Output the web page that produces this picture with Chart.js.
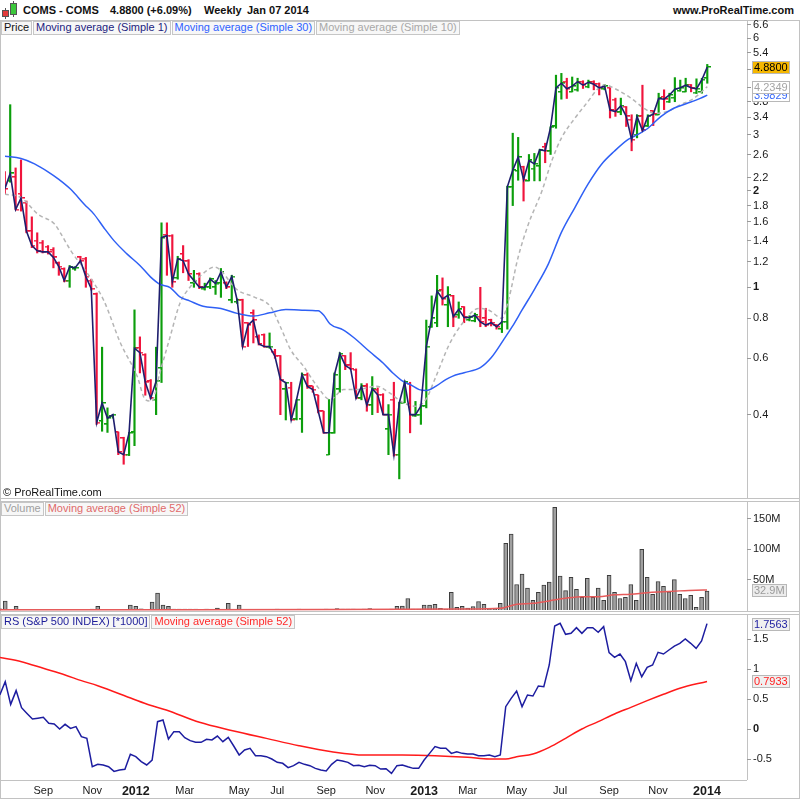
<!DOCTYPE html>
<html>
<head>
<meta charset="utf-8">
<title>COMS - COMS Weekly</title>
<script src="https://cdn.jsdelivr.net/npm/chart.js@4.4.1/dist/chart.umd.min.js"></script>
<style>
  html, body { margin: 0; padding: 0; background: #fff; }
  body { position: relative; width: 800px; height: 800px; overflow: hidden; font-family: "Liberation Sans", Arial, Helvetica, sans-serif; color: #111; }
  canvas { position: absolute; left: 0; top: 0; }
  .ln { position: absolute; background: #c2c2c2; }
  .hdr { position: absolute; top: 4px; font-size: 11px; line-height: 12px; font-weight: bold; white-space: nowrap; }
  .legend { position: absolute; left: 1px; display: flex; z-index: 2; }
  .legend span { font-size: 11px; line-height: 11px; padding: 0 2px 1px 2px; border: 1px solid #c6c6c6; background: #f7f7f7; margin-right: 1px; white-space: nowrap; }
  .copy { position: absolute; left: 3px; top: 486px; font-size: 11px; line-height: 12px; z-index: 2; }
  .candle { position: absolute; box-sizing: border-box; border: 1px solid #555; }
  .wick { position: absolute; width: 1px; background: #555; }
</style>
</head>
<body>

<!-- header -->
<div class="wick" style="left:5px;top:8px;height:11px"></div>
<div class="candle" style="left:2px;top:10px;width:7px;height:7px;background:#e23a3a"></div>
<div class="wick" style="left:13px;top:1px;height:16px"></div>
<div class="candle" style="left:10px;top:3px;width:7px;height:12px;background:#3cc83c"></div>
<span class="hdr" style="left:23px">COMS - COMS</span>
<span class="hdr" style="left:110px">4.8800 (+6.09%)</span>
<span class="hdr" style="left:204px">Weekly</span>
<span class="hdr" style="left:247px">Jan 07 2014</span>
<span class="hdr" style="right:6px">www.ProRealTime.com</span>

<!-- panel frames -->
<div class="ln" style="left:0;top:20px;width:800px;height:1px"></div>
<div class="ln" style="left:0;top:498px;width:800px;height:1px"></div>
<div class="ln" style="left:0;top:501px;width:800px;height:1px"></div>
<div class="ln" style="left:0;top:611px;width:800px;height:1px"></div>
<div class="ln" style="left:0;top:614px;width:800px;height:1px"></div>
<div class="ln" style="left:0;top:780px;width:747px;height:1px"></div>
<div class="ln" style="left:0;top:798px;width:800px;height:1px"></div>
<div class="ln" style="left:0;top:20px;width:1px;height:779px"></div>
<div class="ln" style="left:747px;top:20px;width:1px;height:478px"></div>
<div class="ln" style="left:747px;top:501px;width:1px;height:110px"></div>
<div class="ln" style="left:747px;top:614px;width:1px;height:166px"></div>
<div class="ln" style="left:799px;top:20px;width:1px;height:779px"></div>

<canvas id="priceCanvas" width="800" height="800"></canvas>
<canvas id="volumeCanvas" width="800" height="800"></canvas>
<canvas id="rsCanvas" width="800" height="800"></canvas>

<!-- panel legends -->
<div class="legend" style="top:21px">
  <span style="color:#111">Price</span>
  <span style="color:#1c1c80">Moving average (Simple 1)</span>
  <span style="color:#2f62ff">Moving average (Simple 30)</span>
  <span style="color:#a8a8a8">Moving average (Simple 10)</span>
</div>
<div class="copy">© ProRealTime.com</div>
<div class="legend" style="top:502px">
  <span style="color:#a0a0a0">Volume</span>
  <span style="color:#e06a6a">Moving average (Simple 52)</span>
</div>
<div class="legend" style="top:615px">
  <span style="color:#1d1d99">RS (S&amp;P 500 INDEX) [*1000]</span>
  <span style="color:#ff2a2a">Moving average (Simple 52)</span>
</div>

<script>
const FONT = '"Liberation Sans", Arial, Helvetica, sans-serif';

// Weekly bars: index 0 = week of 18 Jul 2011, index 130 = week of 6 Jan 2014
const X_MIN = 0.037;
const X_MAX = 137.35;

const opens = [
  2.2, 2.15, 2.21, 1.96, 1.84, 1.50, 1.40, 1.38, 1.34, 1.31,
  1.19, 1.14, 1.05, 1.14, 1.24, 1.23, 1.05, 0.95, 0.382, 0.373,
  0.395, 0.352, 0.338, 0.30, 0.352, 0.647, 0.615, 0.51, 0.446, 0.56,
  1.46, 1.45, 1.07, 1.27, 1.21, 1.03, 1.10, 0.99, 1.0, 1.0,
  1.03, 1.03, 0.91, 0.90, 0.911, 0.773, 0.83, 0.70, 0.71, 0.65,
  0.63, 0.61, 0.48, 0.486, 0.387, 0.387, 0.533, 0.49, 0.46, 0.41,
  0.30, 0.351, 0.48, 0.61, 0.57, 0.553, 0.45, 0.49, 0.428, 0.479,
  0.462, 0.36, 0.446, 0.30, 0.436, 0.50, 0.397, 0.40, 0.425, 0.75,
  0.773, 0.98, 0.88, 0.94, 0.82, 0.867, 0.79, 0.785, 0.81, 0.80,
  0.79, 0.762, 0.741, 0.78, 2.06, 2.31, 2.38, 2.15, 2.35, 2.39,
  2.74, 2.66, 3.18, 4.08, 4.39, 4.08, 4.14, 4.39, 4.23, 4.39,
  4.33, 4.17, 4.2, 3.86, 3.52, 3.67, 3.34, 3.0, 3.42, 3.18,
  3.55, 3.46, 3.94, 3.8, 3.91, 4.11, 4.08, 4.30, 4.06, 4.08,
  4.5
];
const highs = [
  2.3, 3.72, 2.36, 2.5, 1.86, 1.66, 1.48, 1.40, 1.35, 1.33,
  1.20, 1.15, 1.17, 1.16, 1.25, 1.24, 1.06, 0.96, 0.65, 0.42,
  0.40, 0.353, 0.34, 0.352, 0.85, 0.70, 0.62, 0.515, 0.65, 1.59,
  1.59, 1.46, 1.25, 1.35, 1.22, 1.13, 1.11, 1.03, 1.07, 1.05,
  1.145, 1.04, 1.09, 0.92, 0.918, 0.775, 0.85, 0.71, 0.715, 0.72,
  0.64, 0.612, 0.505, 0.505, 0.446, 0.54, 0.54, 0.49, 0.46, 0.41,
  0.446, 0.54, 0.625, 0.612, 0.625, 0.556, 0.50, 0.50, 0.526, 0.485,
  0.465, 0.43, 0.505, 0.437, 0.51, 0.505, 0.44, 0.43, 0.79, 0.94,
  1.09, 1.07, 1.005, 0.944, 0.90, 0.87, 0.815, 0.83, 1.0, 0.86,
  0.795, 0.765, 0.78, 2.07, 3.03, 2.94, 2.39, 2.60, 2.62, 2.70,
  2.82, 3.17, 4.6, 4.66, 4.5, 4.54, 4.5, 4.42, 4.44, 4.42,
  4.35, 4.3, 4.2, 3.9, 3.9, 3.67, 3.46, 3.46, 4.28, 3.46,
  3.56, 4.04, 4.14, 4.04, 4.52, 4.44, 4.5, 4.30, 4.48, 4.5,
  4.97
];
const lows = [
  1.95, 2.13, 1.75, 1.73, 1.48, 1.33, 1.28, 1.28, 1.27, 1.15,
  1.09, 1.04, 1.0, 1.13, 1.20, 1.0, 0.98, 0.373, 0.355, 0.352,
  0.39, 0.30, 0.28, 0.298, 0.32, 0.54, 0.46, 0.448, 0.40, 0.504,
  1.09, 1.0, 1.06, 1.11, 1.05, 1.0, 0.99, 0.98, 0.99, 0.95,
  0.93, 0.99, 0.894, 0.89, 0.653, 0.653, 0.67, 0.66, 0.65, 0.645,
  0.60, 0.40, 0.385, 0.385, 0.385, 0.352, 0.483, 0.47, 0.405, 0.35,
  0.30, 0.35, 0.47, 0.553, 0.553, 0.45, 0.445, 0.41, 0.40, 0.406,
  0.40, 0.30, 0.297, 0.252, 0.436, 0.351, 0.395, 0.373, 0.42, 0.75,
  0.753, 0.88, 0.753, 0.753, 0.80, 0.775, 0.785, 0.78, 0.753, 0.753,
  0.757, 0.74, 0.722, 0.74, 1.80, 2.16, 1.86, 2.15, 2.15, 2.15,
  2.45, 2.60, 3.14, 3.87, 3.89, 4.08, 4.1, 4.18, 4.2, 4.14,
  3.99, 4.14, 3.38, 3.42, 3.46, 3.18, 2.67, 2.93, 3.07, 3.18,
  3.2, 3.46, 3.59, 3.78, 3.8, 4.1, 4.08, 4.08, 4.03, 4.04,
  4.34
];
const closes = [
  2.03, 2.27, 1.75, 1.90, 1.50, 1.35, 1.30, 1.29, 1.29, 1.24,
  1.16, 1.05, 1.16, 1.15, 1.21, 1.08, 0.99, 0.378, 0.435, 0.39,
  0.40, 0.306, 0.30, 0.351, 0.645, 0.625, 0.505, 0.45, 0.509, 1.43,
  1.45, 1.04, 1.23, 1.21, 1.10, 1.05, 1.0, 1.0, 1.06, 1.027,
  1.115, 1.0, 1.08, 0.911, 0.653, 0.762, 0.79, 0.665, 0.653, 0.653,
  0.608, 0.515, 0.503, 0.385, 0.446, 0.533, 0.49, 0.479, 0.41, 0.351,
  0.351, 0.533, 0.62, 0.57, 0.556, 0.45, 0.49, 0.428, 0.482, 0.462,
  0.40, 0.40, 0.30, 0.436, 0.505, 0.40, 0.40, 0.425, 0.653, 0.80,
  0.974, 0.92, 0.944, 0.81, 0.853, 0.805, 0.805, 0.818, 0.78, 0.762,
  0.775, 0.753, 0.78, 2.06, 2.32, 2.55, 2.17, 2.49, 2.43, 2.69,
  2.67, 3.16, 4.2, 4.34, 4.17, 4.25, 4.39, 4.28, 4.37, 4.31,
  4.2, 4.25, 3.58, 3.54, 3.69, 3.42, 2.89, 3.42, 3.09, 3.42,
  3.47, 3.89, 3.87, 3.99, 4.16, 4.2, 4.28, 4.2, 4.17, 4.45,
  4.88
];

// Moving averages of price, read at the weeks where the lines bend
const ma30Weeks = [0, 3, 5.5, 8, 10, 12.2, 14.7, 16.5, 18.3, 20.2, 22.6, 25, 27, 28.7, 30.6, 32.4, 34.2, 36.7, 40, 43,
  46, 49, 52, 55, 58, 59, 60.2, 62.6, 64.5, 67.5, 70, 71.8, 73.7, 75, 76.7, 78, 79.8, 81.6, 82.8, 85,
  88, 90, 92.3, 93.9, 95.7, 98.1, 100.6, 103, 105.5, 107.9, 110.4, 112.8, 115.3, 116.5, 118.9, 121.4, 123.8, 126.3, 128.7, 130];
const ma30Values = [2.567, 2.525, 2.43, 2.295, 2.174, 2.024, 1.818, 1.693, 1.538, 1.399, 1.272, 1.17, 1.076, 1.022, 0.998, 0.933, 0.907, 0.873, 0.859, 0.829,
  0.813, 0.832, 0.853, 0.848, 0.844, 0.819, 0.768, 0.736, 0.698, 0.63, 0.58, 0.54, 0.508, 0.497, 0.479, 0.476, 0.491, 0.515, 0.527, 0.541,
  0.561, 0.602, 0.685, 0.753, 0.848, 0.991, 1.184, 1.484, 1.775, 2.097, 2.42, 2.661, 2.893, 2.962, 3.129, 3.416, 3.625, 3.757, 3.894, 3.9829];
const ma10Weeks = [0, 3, 6.1, 9.2, 10.4, 12.2, 15.3, 18.3, 21.4, 24.5, 26, 27.2, 28.7, 30.6, 32.4, 34.3, 37, 38.8, 43.1, 46.1,
  49.2, 51, 52.9, 55.3, 57.8, 60.2, 62.7, 65.1, 68.8, 71.2, 73.7, 76.1, 77.9, 79.8, 82.2, 84.7, 87.7, 89.6, 92, 93.2,
  95, 96.9, 99.4, 101.2, 103, 105.5, 107.9, 109.8, 111, 113.4, 115.9, 118.3, 120.2, 122.6, 125, 127.5, 130];
const ma10Values = [1.953, 1.906, 1.693, 1.576, 1.468, 1.302, 1.105, 0.911, 0.67, 0.527, 0.446, 0.441, 0.541, 0.701, 0.89, 1.002, 1.115, 1.156, 0.979, 0.933,
  0.869, 0.753, 0.638, 0.566, 0.491, 0.446, 0.479, 0.479, 0.491, 0.468, 0.436, 0.425, 0.446, 0.527, 0.66, 0.772, 0.859, 0.848, 0.8, 0.911,
  1.242, 1.576, 1.999, 2.477, 2.926, 3.375, 3.803, 4.181, 4.284, 4.134, 3.894, 3.625, 3.497, 3.54, 3.714, 3.894, 4.2349];

// Volume in millions of shares
const volumes = [
  2, 14.5, 1, 6, 0.5, 0.5, 0.5, 0.5, 0.5, 0.5,
  0.5, 0.5, 0.5, 0.5, 0.5, 0.5, 0.5, 1.5, 6, 0.5,
  0.5, 0.5, 0.5, 0.5, 8, 6, 2, 0.5, 13, 28,
  8, 6, 1.5, 1.5, 1.5, 1.5, 1.5, 0.5, 1.5, 0.5,
  3, 0.5, 11, 0.5, 8, 0.5, 0.5, 0.5, 0.5, 0.5,
  0.5, 1.5, 0.5, 0.5, 0.5, 1.5, 0.5, 0.5, 0.5, 0.5,
  1.5, 0.5, 2.5, 1.5, 1.5, 1.5, 0.5, 1.5, 2.5, 0.5,
  0.5, 0.5, 1.5, 6, 6.6, 19, 1.5, 1.5, 8, 8,
  9.3, 2.7, 1, 29, 4.4, 6, 3, 5.5, 14, 9.3,
  1, 1, 11, 110, 125, 42, 59, 36, 16, 29,
  41, 46, 169, 56, 32, 54, 34, 21, 52, 21,
  36, 16, 57, 29, 19, 21, 42, 16, 100, 54,
  26, 47, 39, 30, 50, 26, 19, 24, 4.4, 21,
  31
];
const volMaWeeks = [0, 30, 60, 74, 85, 92, 95, 98, 101, 104, 107, 110, 113, 116, 119, 122, 125, 128, 130];
const volMaValues = [0.6, 0.6, 0.8, 1.1, 1.5, 2.8, 9.4, 11, 15, 19.3, 22, 22, 25, 26, 28.5, 30, 31.5, 32.6, 32.9];

// Relative strength against the S&P 500 (x1000)
const rsValues = [
  0.567, 0.79, 0.41, 0.64, 0.355, 0.26, 0.167, 0.18, 0.195, 0.095,
  0.083, 0.0, 0.078, 0.01, 0.04, -0.128, -0.156, -0.628, -0.589, -0.6,
  -0.628, -0.706, -0.683, -0.672, -0.422, -0.461, -0.544, -0.6, -0.517, 0.122,
  0.15, -0.167, -0.044, -0.044, -0.144, -0.194, -0.222, -0.222, -0.172, -0.183,
  -0.117, -0.211, -0.139, -0.283, -0.433, -0.35, -0.322, -0.444, -0.444, -0.461,
  -0.5, -0.556, -0.572, -0.644, -0.611, -0.556, -0.589, -0.611, -0.656, -0.683,
  -0.7, -0.589, -0.517, -0.533, -0.556, -0.611, -0.606, -0.628, -0.606, -0.611,
  -0.667, -0.661, -0.739, -0.611, -0.6, -0.63, -0.656, -0.656, -0.517, -0.406,
  -0.294, -0.322, -0.322, -0.406, -0.378, -0.406, -0.417, -0.417, -0.444, -0.444,
  -0.433, -0.461, -0.433, 0.372, 0.511, 0.633, 0.372, 0.567, 0.55, 0.717,
  0.706, 1.067, 1.717, 1.761, 1.578, 1.594, 1.689, 1.594, 1.689, 1.689,
  1.611, 1.706, 1.272, 1.194, 1.25, 1.122, 0.806, 1.094, 0.872, 1.028,
  1.067, 1.278, 1.25, 1.317, 1.383, 1.428, 1.5, 1.428, 1.344, 1.467,
  1.7563
];
const rsMaWeeks = [0, 4, 8, 12, 15, 18, 24.5, 27.5, 30.6, 36.7, 42.8, 49, 55, 61, 67, 74, 80, 86, 90, 93,
  95, 98, 101, 104, 107, 110, 113, 116, 119, 122, 125, 130];
const rsMaValues = [1.194, 1.122, 1.011, 0.9, 0.806, 0.722, 0.5, 0.4, 0.317, 0.111, -0.028, -0.156, -0.278, -0.378, -0.433, -0.433, -0.444, -0.472, -0.5, -0.5,
  -0.461, -0.417, -0.306, -0.156, 0.0, 0.122, 0.25, 0.361, 0.472, 0.578, 0.678, 0.7933];

// Axis ticks
const priceTicks = [0.4, 0.6, 0.8, 1, 1.2, 1.4, 1.6, 1.8, 2, 2.2, 2.6, 3, 3.4, 3.8, 4.2, 4.8, 5.4, 6, 6.6];
const volumeTicks = [50, 100, 150];
const rsTicks = [-0.5, 0, 0.5, 1, 1.5];
const monthWeeks = [8, 17, 25, 34, 44, 51, 60, 69, 78, 86, 95, 103, 112, 121, 130];
const monthLabels = ['Sep', 'Nov', '2012', 'Mar', 'May', 'Jul', 'Sep', 'Nov', '2013', 'Mar', 'May', 'Jul', 'Sep', 'Nov', '2014'];

// Last values shown in the axis badges
const lastClose = 4.88;
const lastMa10 = 4.2349;
const lastMa30 = 3.9829;
const lastVolMa = 32.9;
const lastRs = 1.7563;
const lastRsMa = 0.7933;

const GREEN = '#0c9e0c';
const RED = '#f0143c';
const isUp = closes.map((c, i) => c >= opens[i]);
const barColors = isUp.map(u => u ? GREEN : RED);

// Small open/close ticks used as point images
function tickImage(color, side) {
  const c = document.createElement('canvas');
  c.width = 7;
  c.height = 2;
  const g = c.getContext('2d');
  g.fillStyle = color;
  g.fillRect(side === 'left' ? 0 : 3.5, 0, 3.5, 1.5);
  return c;
}
const openTick = { true: tickImage(GREEN, 'left'), false: tickImage(RED, 'left') };
const closeTick = { true: tickImage(GREEN, 'right'), false: tickImage(RED, 'right') };

function points(xs, ys) {
  return xs.map((x, k) => ({ x: x, y: ys[k] }));
}

function baseOptions(padTop, padBottom) {
  return {
    responsive: false,
    animation: false,
    events: [],
    layout: { padding: { top: padTop, bottom: padBottom, left: 0, right: 0 } },
    plugins: { legend: { display: false }, tooltip: { enabled: false } },
    scales: {
      x: { type: 'linear', min: X_MIN, max: X_MAX, offset: false, display: false }
    }
  };
}

function rightAxis(extra, tickValues, label, boldValues) {
  return Object.assign({
    position: 'right',
    afterBuildTicks: s => { s.ticks = tickValues.map(v => ({ value: v })); },
    afterFit: s => { s.width = 53; s.paddingTop = 0; s.paddingBottom = 0; },
    grid: { drawOnChartArea: false, tickLength: 4, color: '#9a9a9a' },
    border: { display: false },
    ticks: {
      autoSkip: false,
      padding: 2,
      color: '#1a1a1a',
      callback: label,
      font: c => ({ family: FONT, size: 11, weight: c.tick && boldValues.includes(c.tick.value) ? 'bold' : 'normal' })
    }
  }, extra);
}

// Value badges drawn on the right axis
function badgePlugin(list) {
  return {
    id: 'badges',
    afterDraw(chart) {
      const ctx = chart.ctx;
      const scale = chart.scales.y;
      const x = chart.chartArea.right + 5;
      list.forEach(b => {
        const y = Math.round(scale.getPixelForValue(b.value));
        ctx.save();
        ctx.font = '11px ' + FONT;
        const w = Math.ceil(ctx.measureText(b.text).width) + 4;
        ctx.fillStyle = b.bg;
        ctx.fillRect(x, y - 6, w, 13);
        ctx.strokeStyle = '#b8b8b8';
        ctx.lineWidth = 1;
        ctx.strokeRect(x + 0.5, y - 5.5, w - 1, 12);
        ctx.fillStyle = b.color;
        ctx.textBaseline = 'middle';
        ctx.fillText(b.text, x + 2, y + 1);
        ctx.restore();
      });
    }
  };
}

// Price panel
const priceOptions = baseOptions(21, 303);
priceOptions.scales.y = rightAxis({ type: 'logarithmic', min: 0.2212, max: 6.792 }, priceTicks, v => String(v), [1, 2]);

new Chart(document.getElementById('priceCanvas'), {
  type: 'bar',
  data: {
    datasets: [
      { type: 'line', data: points(closes.map((c, i) => i), closes), borderColor: '#1e1e6e', borderWidth: 1.6, pointRadius: 0, order: 1 },
      { type: 'line', data: points(ma30Weeks, ma30Values), borderColor: '#2f60f5', borderWidth: 1.5, pointRadius: 0, cubicInterpolationMode: 'monotone', order: 2 },
      { type: 'line', data: points(ma10Weeks, ma10Values), borderColor: '#b5b5b5', borderWidth: 1.5, borderDash: [4, 3], pointRadius: 0, cubicInterpolationMode: 'monotone', order: 3 },
      { type: 'line', showLine: false, data: points(opens.map((o, i) => i), opens), pointStyle: isUp.map(u => openTick[u]), pointRadius: 3, order: 4 },
      { type: 'line', showLine: false, data: points(closes.map((c, i) => i), closes), pointStyle: isUp.map(u => closeTick[u]), pointRadius: 3, order: 4 },
      { type: 'bar', data: lows.map((l, i) => ({ x: i, y: [l, highs[i]] })), backgroundColor: barColors, barThickness: 1.5, order: 5 }
    ]
  },
  options: priceOptions,
  plugins: [badgePlugin([
    { value: lastMa30, text: lastMa30.toFixed(4), color: '#3a6af8', bg: '#ffffff' },
    { value: lastMa10, text: lastMa10.toFixed(4), color: '#a5a5a5', bg: '#ffffff' },
    { value: lastClose, text: lastClose.toFixed(4), color: '#000000', bg: '#f5b700' }
  ])]
});

// Volume panel
const volumeOptions = baseOptions(502, 189);
volumeOptions.scales.y = rightAxis({ type: 'linear', min: -1.65, max: 177.9 }, volumeTicks, v => v + 'M', []);

new Chart(document.getElementById('volumeCanvas'), {
  type: 'bar',
  data: {
    datasets: [
      { type: 'line', data: points(volMaWeeks, volMaValues), borderColor: '#e65a5a', borderWidth: 1.5, pointRadius: 0, cubicInterpolationMode: 'monotone', order: 1 },
      { type: 'bar', data: volumes.map((v, i) => ({ x: i, y: v })), backgroundColor: '#a0a0a0', borderColor: '#3c3c3c', borderWidth: 1, barThickness: 4, order: 2 }
    ]
  },
  options: volumeOptions,
  plugins: [badgePlugin([
    { value: lastVolMa, text: lastVolMa + 'M', color: '#9a9a9a', bg: '#ececec' }
  ])]
});

// Relative strength panel with the time axis
const rsOptions = baseOptions(615, 2);
rsOptions.scales.y = rightAxis({ type: 'linear', min: -0.85, max: 1.9 }, rsTicks, v => String(v), [0]);
rsOptions.scales.x = {
  type: 'linear', min: X_MIN, max: X_MAX, offset: false, position: 'bottom',
  afterBuildTicks: s => { s.ticks = monthWeeks.map(w => ({ value: w })); },
  afterFit: s => { s.height = 18; s.paddingLeft = 0; s.paddingRight = 0; },
  grid: { display: false, drawTicks: false, tickLength: 0 },
  border: { display: false },
  ticks: {
    autoSkip: false, maxRotation: 0, padding: 4, color: '#1a1a1a',
    callback: (v, i) => monthLabels[i],
    font: c => {
      const year = monthLabels[c.index] && monthLabels[c.index].length === 4;
      return { family: FONT, size: year ? 12.5 : 11, weight: year ? 'bold' : 'normal' };
    }
  }
};

new Chart(document.getElementById('rsCanvas'), {
  type: 'line',
  data: {
    datasets: [
      { data: points(rsValues.map((r, i) => i), rsValues), borderColor: '#1d1da0', borderWidth: 1.5, pointRadius: 0, order: 1 },
      { data: points(rsMaWeeks, rsMaValues), borderColor: '#ff1a1a', borderWidth: 1.5, pointRadius: 0, cubicInterpolationMode: 'monotone', order: 2 }
    ]
  },
  options: rsOptions,
  plugins: [badgePlugin([
    { value: lastRsMa, text: lastRsMa.toFixed(4), color: '#ff2020', bg: '#f0f0f0' },
    { value: lastRs, text: lastRs.toFixed(4), color: '#1d1da0', bg: '#f0f0f0' }
  ])]
});
</script>
</body>
</html>
